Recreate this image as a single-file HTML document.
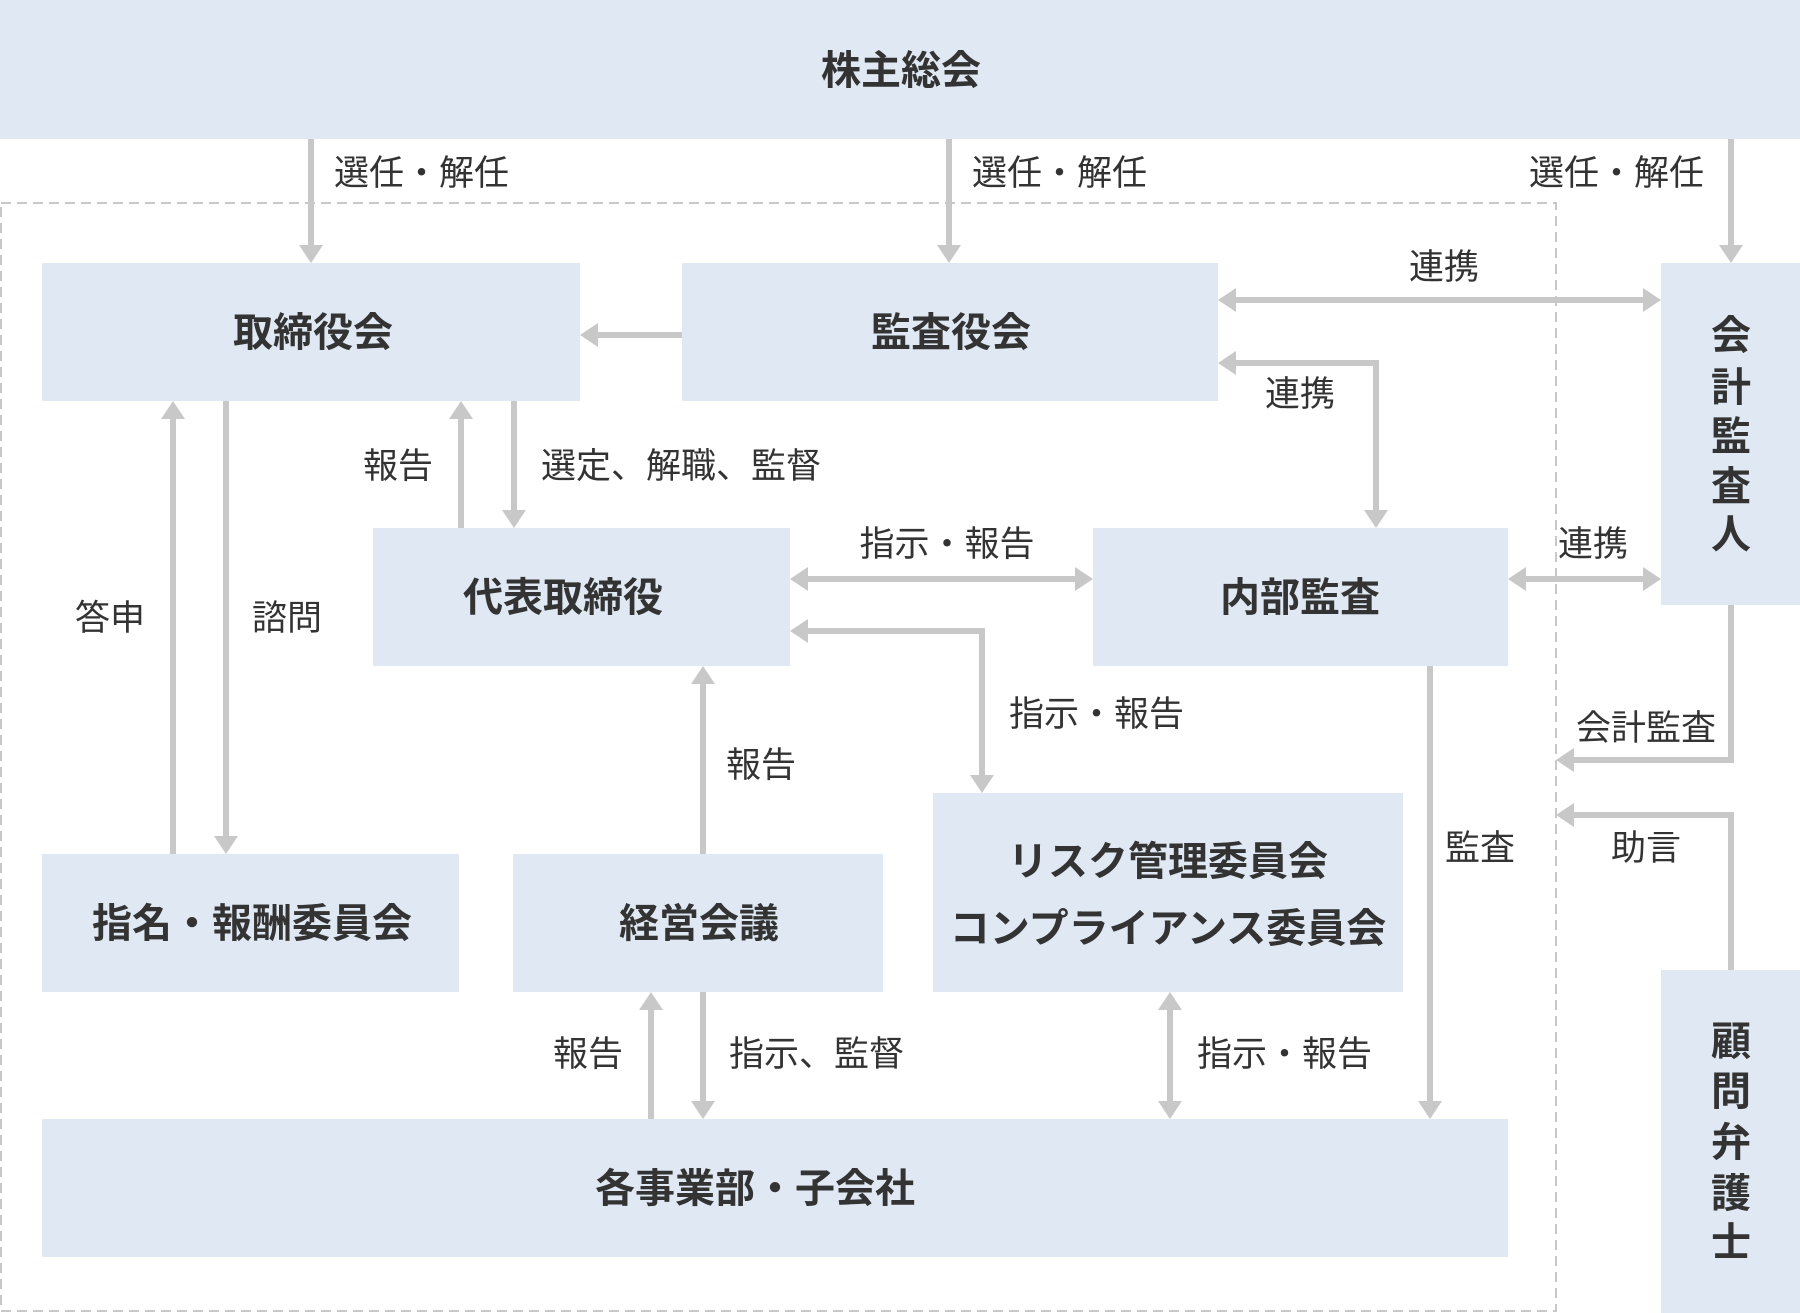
<!DOCTYPE html>
<html><head><meta charset="utf-8"><style>
html,body{margin:0;padding:0;background:#fff;}
svg{display:block;}
text{font-family:"Liberation Sans","Noto Sans CJK JP",sans-serif;fill:#333;}
.t{font-size:40px;font-weight:bold;text-anchor:middle;}
.l{font-size:35px;}
.c{text-anchor:middle;}
.a{stroke:#c8c8c8;stroke-width:6;fill:none;}
</style></head><body>
<svg width="1800" height="1313" viewBox="0 0 1800 1313" xmlns="http://www.w3.org/2000/svg">
<defs>
<marker id="h" viewBox="0 0 18 24" markerWidth="18" markerHeight="24" refX="8" refY="12" orient="auto-start-reverse" markerUnits="userSpaceOnUse">
<path d="M0,0 L18,12 L0,24 z" fill="#c8c8c8"/>
</marker>
</defs>
<rect x="1" y="203" width="1555" height="1108" fill="none" stroke="#c8c8c8" stroke-width="2" stroke-dasharray="10 6"/>
<g fill="#dfe8f3">
<rect x="0" y="0" width="1800" height="139"/>
<rect x="42" y="263" width="538" height="138"/>
<rect x="682" y="263" width="536" height="138"/>
<rect x="1661" y="263" width="139" height="342"/>
<rect x="373" y="528" width="417" height="138"/>
<rect x="1093" y="528" width="415" height="138"/>
<rect x="42" y="854" width="417" height="138"/>
<rect x="513" y="854" width="370" height="138"/>
<rect x="933" y="793" width="470" height="199"/>
<rect x="42" y="1119" width="1466" height="138"/>
<rect x="1661" y="970" width="139" height="343"/>
</g>
<g class="a">
<path d="M311,139 V253" marker-end="url(#h)"/>
<path d="M949,139 V253" marker-end="url(#h)"/>
<path d="M1731,139 V253" marker-end="url(#h)"/>
<path d="M682,335 H590" marker-end="url(#h)"/>
<path d="M1228,300 H1651" marker-start="url(#h)" marker-end="url(#h)"/>
<path d="M1228,363 H1376 V518" marker-start="url(#h)" marker-end="url(#h)"/>
<path d="M173,854 V411" marker-end="url(#h)"/>
<path d="M226,401 V844" marker-end="url(#h)"/>
<path d="M461,528 V411" marker-end="url(#h)"/>
<path d="M514,401 V518" marker-end="url(#h)"/>
<path d="M800,579 H1083" marker-start="url(#h)" marker-end="url(#h)"/>
<path d="M800,631 H982 V783" marker-start="url(#h)" marker-end="url(#h)"/>
<path d="M1518,579 H1651" marker-start="url(#h)" marker-end="url(#h)"/>
<path d="M703,854 V676" marker-end="url(#h)"/>
<path d="M1430,666 V1109" marker-end="url(#h)"/>
<path d="M1731,605 V760 H1566" marker-end="url(#h)"/>
<path d="M1731,970 V815 H1566" marker-end="url(#h)"/>
<path d="M651,1119 V1002" marker-end="url(#h)"/>
<path d="M703,992 V1109" marker-end="url(#h)"/>
<path d="M1170,1002 V1109" marker-start="url(#h)" marker-end="url(#h)"/>
</g>
<g>
<text class="t" x="901" y="84">株主総会</text>
<text class="t" x="313" y="346">取締役会</text>
<text class="t" x="951" y="346">監査役会</text>
<text class="t" x="563" y="611">代表取締役</text>
<text class="t" x="1300" y="611">内部監査</text>
<text class="t" x="252" y="937">指名・報酬委員会</text>
<text class="t" x="699" y="937">経営会議</text>
<text class="t" x="1168" y="875">リスク管理委員会</text>
<text class="t" x="1168" y="942">コンプライアンス委員会</text>
<text class="t" x="755" y="1202">各事業部・子会社</text>
<text class="t" x="1731" y="349">会</text>
<text class="t" x="1731" y="401">計</text>
<text class="t" x="1731" y="450">監</text>
<text class="t" x="1731" y="500">査</text>
<text class="t" x="1731" y="548">人</text>
<text class="t" x="1731" y="1055">顧</text>
<text class="t" x="1731" y="1105">問</text>
<text class="t" x="1731" y="1156">弁</text>
<text class="t" x="1731" y="1207">護</text>
<text class="t" x="1731" y="1256">士</text>
</g>
<g class="l">
<text class="l" x="334" y="185">選任・解任</text>
<text class="l" x="972" y="185">選任・解任</text>
<text class="l" x="1529" y="185">選任・解任</text>
<text class="l c" x="1444" y="279">連携</text>
<text class="l c" x="1300" y="406">連携</text>
<text class="l c" x="110" y="630">答申</text>
<text class="l c" x="287" y="630">諮問</text>
<text class="l c" x="398" y="478">報告</text>
<text class="l" x="541" y="478">選定、解職、監督</text>
<text class="l c" x="947" y="556">指示・報告</text>
<text class="l c" x="1593" y="556">連携</text>
<text class="l" x="1009" y="726">指示・報告</text>
<text class="l c" x="761" y="777">報告</text>
<text class="l c" x="1480" y="860">監査</text>
<text class="l c" x="1646" y="740">会計監査</text>
<text class="l c" x="1646" y="860">助言</text>
<text class="l c" x="588" y="1066">報告</text>
<text class="l" x="729" y="1066">指示、監督</text>
<text class="l" x="1197" y="1066">指示・報告</text>
</g>
</svg>
</body></html>
